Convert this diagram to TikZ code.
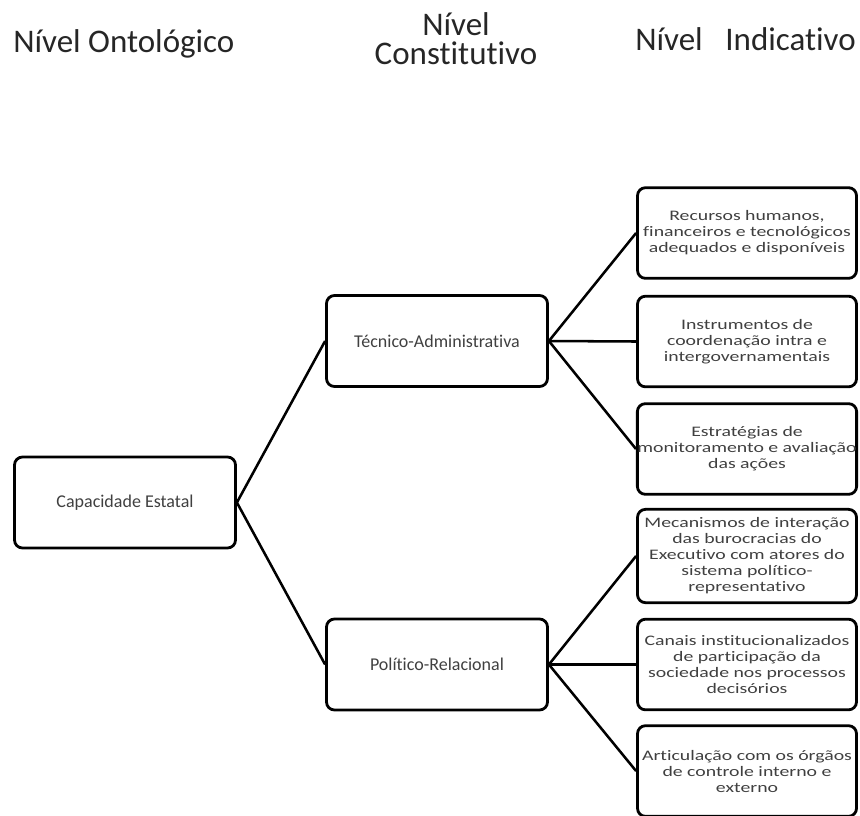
\documentclass[tikz,border=0pt]{standalone}
\usepackage{fontspec}
\setmainfont{Carlito}[Ligatures={NoCommon}]
\newfontfamily\widefont{Carlito}[FakeStretch=1.36,Ligatures={NoCommon}]
\begin{document}
\begin{tikzpicture}[x=0.75pt,y=-0.75pt,
  box/.style={draw=black, line width=2.1pt, rounded corners=6pt, fill=white,
    inner sep=0pt, align=center, text=black!75},
  lbox/.style={box, minimum width=165.75pt, minimum height=68.25pt,
    font=\fontsize{13.5pt}{16pt}\selectfont},
  rbox/.style={box, minimum width=164.25pt, minimum height=68pt,
    font=\widefont\fontsize{10.9pt}{12pt}\selectfont},
  head/.style={font=\fontsize{24.75pt}{21.75pt}\selectfont, text=black!85, inner sep=0pt},
  conn/.style={line width=1.9pt}]
\useasboundingbox (0,0) rectangle (860,815);

\node[head, anchor=base west] (h1) at (13,52) {Nível Ontológico};
\node[head, anchor=base, align=center] (h2) at (456,64) {Nível\\Constitutivo};
\node[head, anchor=base west] (h3) at (635,50) {Nível\hspace{17pt}Indicativo};

\node[lbox] (cap) at (125,502.5) {Capacidade Estatal};
\node[lbox] (tec) at (437,341) {Técnico-Administrativa};
\node[lbox] (pol) at (437,664.5) {Político-Relacional};

\node[rbox] (r1) at (747,233) {Recursos humanos,\\financeiros e tecnológicos\\adequados e disponíveis};
\node[rbox] (r2) at (747,341.5) {Instrumentos de\\coordenação intra e\\intergovernamentais};
\node[rbox] (r3) at (747,449) {Estratégias de\\monitoramento e avaliação\\das ações};
\node[rbox, minimum height=70pt] (r4) at (747,556) {Mecanismos de interação\\das burocracias do\\Executivo com atores do\\sistema político-\\representativo};
\node[rbox] (r5) at (747,664.5) {Canais institucionalizados\\de participação da\\sociedade nos processos\\decisórios};
\node[rbox] (r6) at (747,771) {Articulação com os órgãos\\de controle interno e\\externo};

\draw[conn] (cap.east) -- (tec.west);
\draw[conn] (cap.east) -- (pol.west);
\draw[conn] (tec.east) -- (r1.west);
\draw[conn] (tec.east) -- (r2.west);
\draw[conn] (tec.east) -- (r3.west);
\draw[conn] (pol.east) -- (r4.west);
\draw[conn] (pol.east) -- (r5.west);
\draw[conn] (pol.east) -- (r6.west);
\end{tikzpicture}
\end{document}
